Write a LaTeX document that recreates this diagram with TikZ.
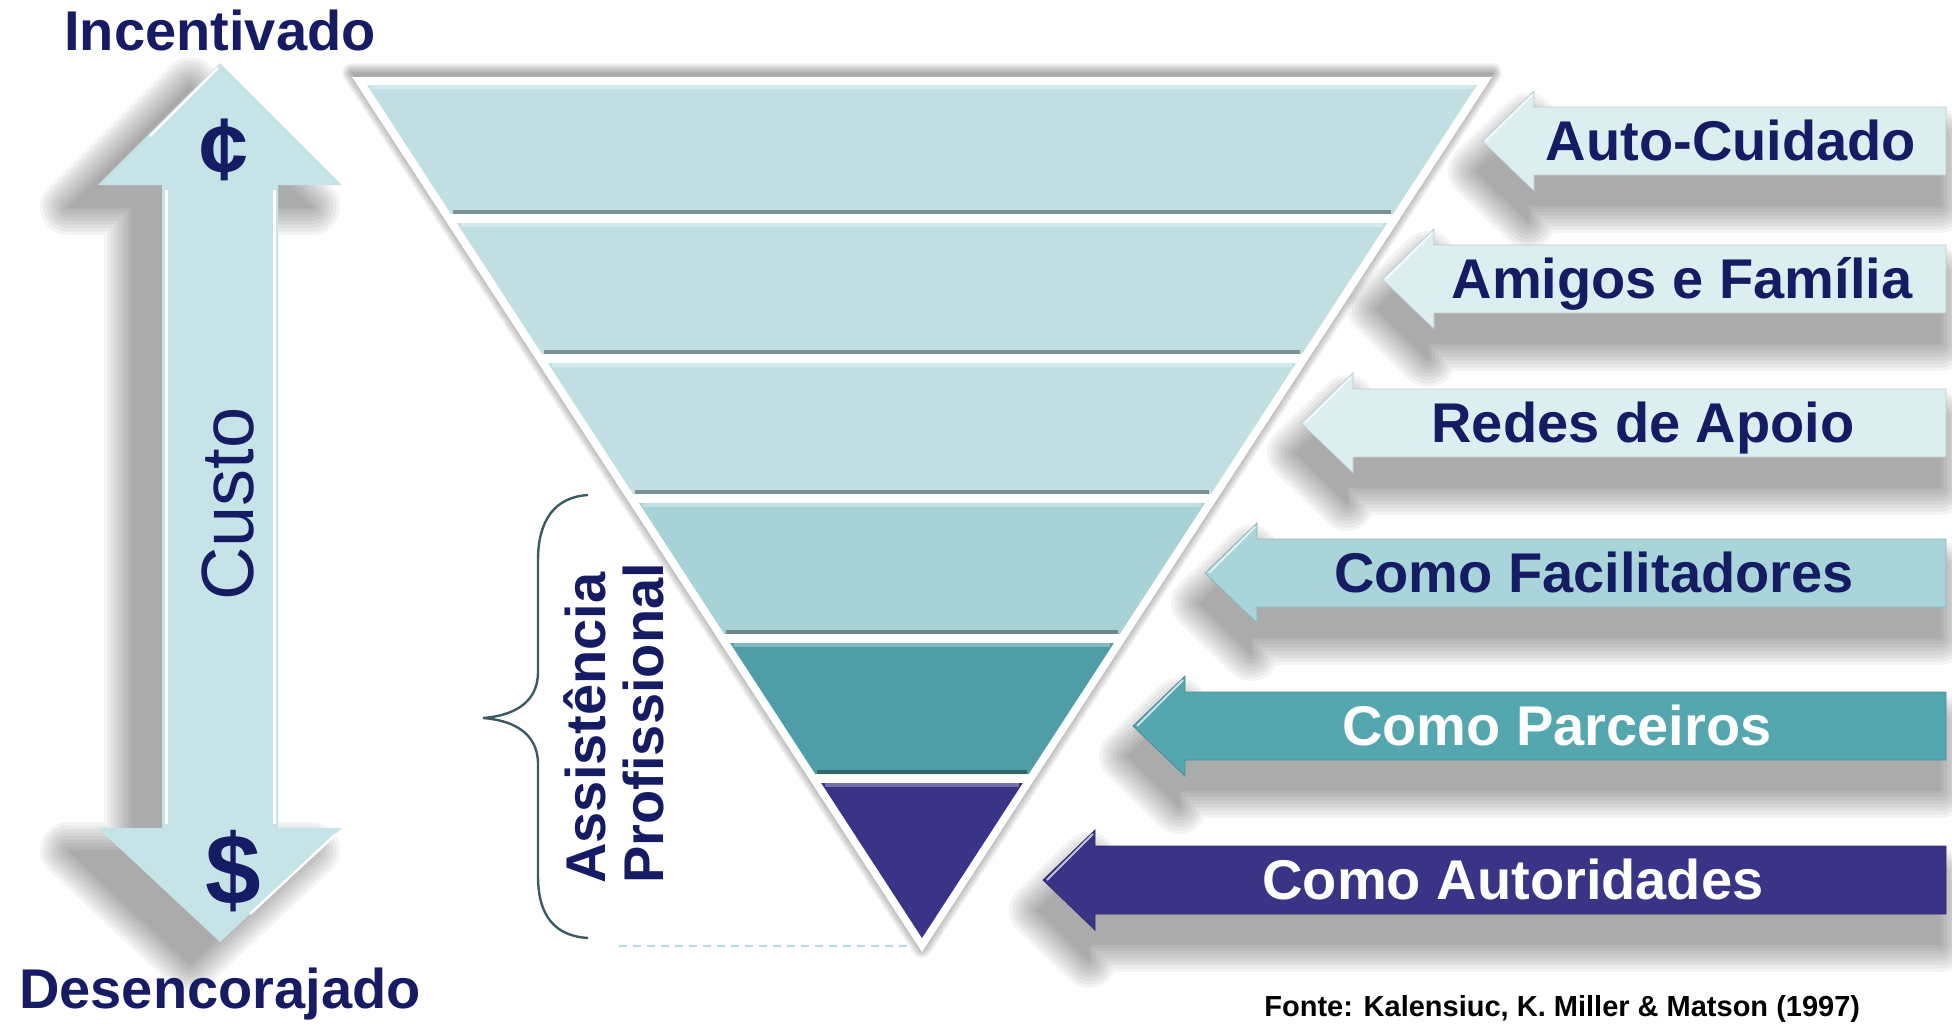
\documentclass[tikz,border=0pt]{standalone}
\usepackage{fontspec}
\setmainfont{Liberation Sans}

\definecolor{navy}{RGB}{22,28,99}
\definecolor{bandA}{RGB}{193,223,226}
\definecolor{bandB}{RGB}{167,211,215}
\definecolor{bandC}{RGB}{78,157,167}
\definecolor{bandD}{RGB}{58,52,134}
\definecolor{arrA}{RGB}{221,238,241}
\definecolor{arrB}{RGB}{169,213,218}
\definecolor{arrC}{RGB}{84,166,175}
\definecolor{costarrow}{RGB}{198,228,232}
\definecolor{bracecol}{RGB}{60,90,100}
\definecolor{dashcol}{RGB}{180,220,228}

% soft grey shadow: blur width, shift, shape style
\newcommand\softshadow[3]{%
  \foreach \k in {0,...,8}{
    \begin{scope}[transparency group, opacity=0.045]
      \filldraw[black, line width=\k*#1*0.0625pt, line join=round, shift={#2}, #3];
    \end{scope}}}

\tikzset{
  lbl/.style={font=\fontsize{28}{30}\selectfont\bfseries, inner sep=0pt},
  rarrow/.style 2 args={insert path={(#1,#2) -- ({#1+52},{#2-50}) -- ({#1+52},{#2-34})
      -- (1946,{#2-34}) -- (1946,{#2+34}) -- ({#1+52},{#2+34}) -- ({#1+52},{#2+50}) -- cycle}},
  funnel/.style={insert path={(352,77) -- (1492,77) -- (922,952) -- cycle}},
  costshape/.style={insert path={(220,63) -- (342,185) -- (278,185) -- (278,828) -- (342,828)
      -- (220,942) -- (98,828) -- (162,828) -- (162,185) -- (98,185) -- cycle}}
}

\def\arrowdata{1482/141/arrA/navy/1731/Auto-Cuidado,
  1382/279/arrA/navy/1682/Amigos e Família,
  1301/423/arrA/navy/1643/Redes de Apoio,
  1205/573/arrB/navy/1594/Como Facilitadores,
  1133/726/arrC/white/1557/Como Parceiros,
  1043/880/bandD/white/1513/Como Autoridades}

\begin{document}
\begin{tikzpicture}[x=0.5pt,y=-0.5pt]
\useasboundingbox (0,0) rectangle (1952,1024);

% cost arrow
\softshadow{56}{(-30,22)}{costshape}
\fill[costarrow, costshape];
\draw[white, line width=1.5pt] (166,190) -- (166,824);
\draw[white, line width=1.5pt] (274,190) -- (274,824);
\draw[white, line width=1.2pt] (218,68) -- (150,136);
\draw[white, line width=1.2pt] (336,834) -- (250,914);
\node[text=navy, font=\fontsize{44}{46}\selectfont\bfseries, inner sep=0pt] (cent) at (224,150) {¢};
\node[text=navy, font=\fontsize{50}{52}\selectfont\bfseries, inner sep=0pt] (dollar) at (233,871) {\$};
\node[text=navy, font=\fontsize{37}{40}\selectfont, rotate=90, inner sep=0pt] (custo) at (228,504) {Custo};
\node[lbl, text=navy, anchor=base] (incent) at (220,50) {Incentivado};
\node[lbl, text=navy, anchor=base] (desenc) at (220,1008) {Desencorajado};

% shadows
\softshadow{20}{(0,-4)}{funnel}
\foreach \tip/\y/\fc/\tc/\tx/\txt in \arrowdata
  \softshadow{56}{(-6,30)}{rarrow={\tip}{\y}};

% funnel
\fill[white, funnel];
\foreach \t/\b/\c in {85/214/bandA,223/354/bandA,363/494/bandA,503/634/bandB,643/774/bandC}{
  \fill[\c] ({922-0.6506*(938-\t)},\t) -- ({922+0.6506*(938-\t)},\t)
    -- ({922+0.6506*(938-\b)},\b) -- ({922-0.6506*(938-\b)},\b) -- cycle;
  \draw[\c!70!white, line width=2pt] ({922-0.6506*(938-\t)+4},{\t+2}) -- ({922+0.6506*(938-\t)-4},{\t+2});
  \draw[\c!65!black, line width=2pt] ({922-0.6506*(938-\b)+2},{\b-2}) -- ({922+0.6506*(938-\b)-2},{\b-2});
}
\fill[bandD] (821.2,783) -- (1022.8,783) -- (922,938) -- cycle;
\draw[bandD!70!white, line width=2pt] (825,785) -- (1019,785);

% brace
\draw[bracecol, line width=1.2pt] (588,495) .. controls (555,497) and (538,520) .. (538,560)
  -- (538,672) .. controls (538,705) and (510,716) .. (483,718)
  .. controls (510,720) and (538,731) .. (538,764)
  -- (538,876) .. controls (538,916) and (555,936) .. (588,938);
\draw[dashcol, line width=1pt, dash pattern=on 4pt off 3pt] (619,946) -- (915,946);
\node[lbl, text=navy, rotate=90, anchor=base west] (assist) at (605,884) {Assistência};
\node[lbl, text=navy, rotate=90, anchor=base west] (prof) at (663,884) {Profissional};

% level arrows
\foreach \tip/\y/\fc/\tc/\tx/\txt in \arrowdata{
  \fill[\fc, draw=\fc!85!black, line width=0.4pt, rarrow={\tip}{\y}];
  \draw[white, opacity=.7, line width=1pt] ({\tip+4},\y) -- ({\tip+50},{\y-46});
  \node[lbl, text=\tc, anchor=base] (lbl\y) at (\tx,{\y+19}) {\txt};
}

\node[font=\fontsize{14.5}{16}\selectfont\bfseries, anchor=base west, inner sep=0pt] (fonte)
  at (1264,1016) {Fonte: Kalensiuc, K. Miller \& Matson (1997)};
\end{tikzpicture}
\end{document}
